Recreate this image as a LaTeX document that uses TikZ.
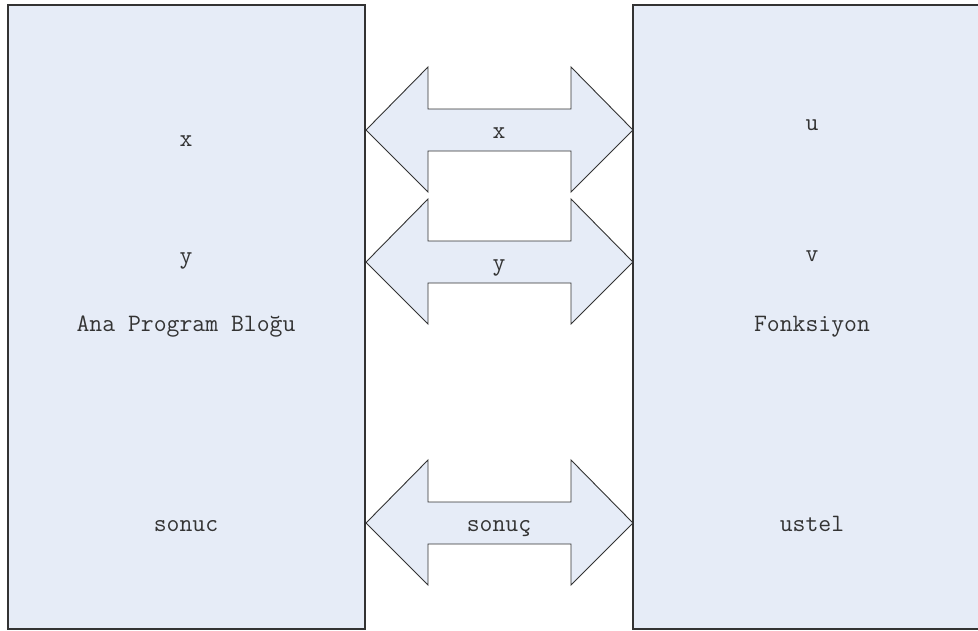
\documentclass[tikz,border=0pt]{standalone}
\usepackage{fontspec}
\definecolor{boxfill}{HTML}{E6ECF7}
\definecolor{edge}{HTML}{333333}
\definecolor{txt}{HTML}{333333}
\begin{document}
\begin{tikzpicture}[x=1pt,y=-1pt,
  blk/.style={draw=edge,fill=boxfill,line width=1.1pt},
  arr/.style={draw=edge,fill=boxfill,line width=0.9pt,line join=miter},
  lbl/.style={text=txt,font=\ttfamily\fontsize{25}{28}\selectfont,inner sep=0pt,anchor=base}]
\useasboundingbox (0,0) rectangle (978,630);
\draw[blk] (8,5) rectangle (365,629);
\draw[blk] (633,5) rectangle (992,629);
\foreach \cy/\nm in {130/ax,262/ay,523/as}{
  \draw[arr] (366,\cy) -- (428,\cy-63) -- (428,\cy-21) -- (571,\cy-21) -- (571,\cy-63)
    -- (633,\cy) -- (571,\cy+62) -- (571,\cy+21) -- (428,\cy+21) -- (428,\cy+62) -- cycle;
}
\node[lbl] (lx) at (186,146) {x};
\node[lbl] (ly) at (186,263) {y};
\node[lbl] (lana) at (186,331) {Ana Program Bloğu};
\node[lbl] (lsonuc) at (186,531) {sonuc};
\node[lbl] (ru) at (812,130) {u};
\node[lbl] (rv) at (812,261) {v};
\node[lbl] (rfon) at (812,331) {Fonksiyon};
\node[lbl] (rustel) at (812,531) {ustel};
\node[lbl] (ax) at (499,138) {x};
\node[lbl] (ay) at (499,270) {y};
\node[lbl] (as) at (499,531) {sonuç};
\end{tikzpicture}
\end{document}
